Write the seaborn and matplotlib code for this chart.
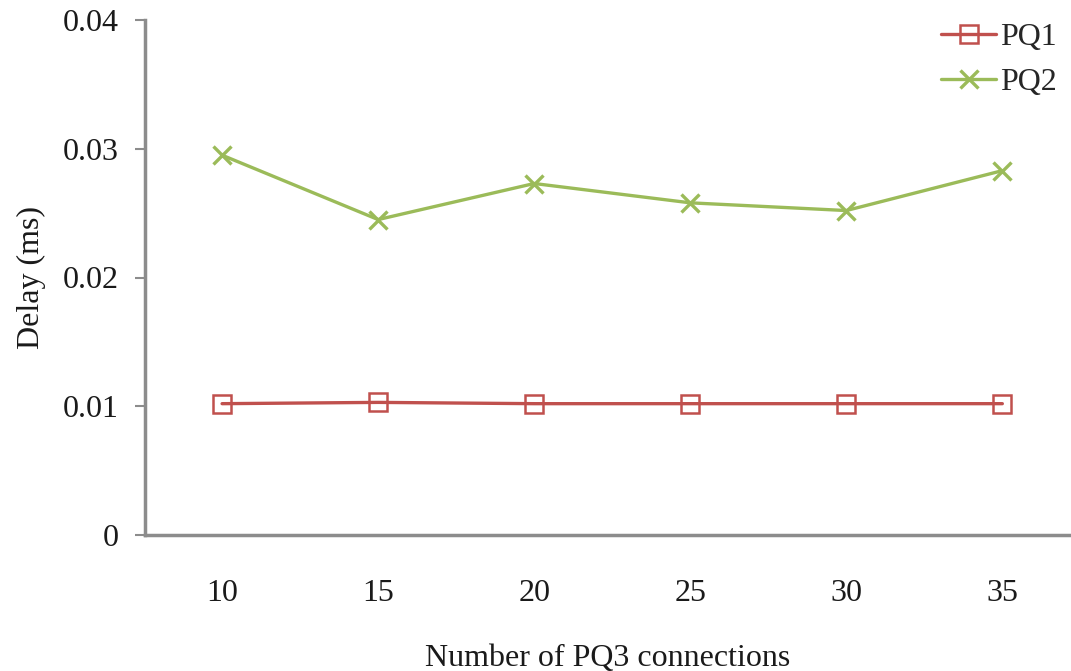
import matplotlib
matplotlib.use("Agg")
import pandas as pd
import seaborn as sns
from matplotlib import pyplot

connections = ["10", "15", "20", "25", "30", "35"]
pq1_delay = [0.0102, 0.0103, 0.0102, 0.0102, 0.0102, 0.0102]
pq2_delay = [0.0295, 0.0245, 0.0273, 0.0258, 0.0252, 0.0283]
yticks = [0, 0.01, 0.02, 0.03, 0.04]
ytick_labels = ["0", "0.01", "0.02", "0.03", "0.04"]

sns.set_style("white")
pyplot.rcParams['font.family'] = ['Liberation Serif', 'DejaVu Serif']

series = {"PQ1": pq1_delay, "PQ2": pq2_delay}
colors = {"PQ1": "#C0504D", "PQ2": "#9BBB59"}
markers = {"PQ1": "s", "PQ2": "x"}

fig = pyplot.figure(figsize=(10.71, 6.71), dpi=100)
ax = fig.add_axes([145 / 1071, 1 - 535 / 671, 1 - 145 / 1071, 515 / 671])

for name, values in series.items():
    df = pd.DataFrame({"connections": connections, "delay": values})
    sns.lineplot(data=df, x="connections", y="delay", color=colors[name],
                 marker=markers[name], markersize=13, linewidth=2.4,
                 markerfacecolor="none", markeredgecolor=colors[name],
                 markeredgewidth=1.8 if name == "PQ1" else 2.4,
                 label=name, legend=False, ax=ax)

ax.set_xlim(-0.494, 5.44)
ax.set_ylim(0, 0.04)
ax.set_yticks(yticks)
ax.set_yticklabels(ytick_labels)

for side in ["top", "right"]:
    ax.spines[side].set_visible(False)
for side in ["left", "bottom"]:
    ax.spines[side].set_color("#8c8c8c")
    ax.spines[side].set_linewidth(2.5)

ax.tick_params(axis="y", which="both", left=True, length=7, width=1.5, color="#8c8c8c",
               labelsize=23, pad=12, labelcolor="#1a1a1a")
ax.tick_params(axis="x", which="both", bottom=False, labelsize=23, pad=28, labelcolor="#1a1a1a")

ax.set_xlabel("Number of PQ3 connections", fontsize=23, labelpad=26, color="#1a1a1a")
ax.set_ylabel("Delay (ms)", fontsize=23, labelpad=12, color="#1a1a1a")

ax.legend(handles=ax.lines[:2], loc="upper right", bbox_to_anchor=(1.008, 1.0),
          bbox_transform=fig.transFigure, frameon=False, fontsize=23,
          handlelength=1.7, handletextpad=0.15, labelspacing=0.5, borderpad=0.2)

pyplot.savefig("out.png", dpi=100)
pyplot.close()
